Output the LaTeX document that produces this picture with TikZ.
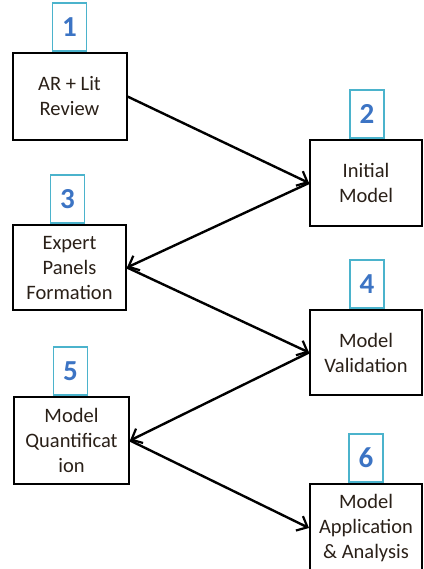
\documentclass[tikz,border=0pt]{standalone}
\usepackage{fontspec}
\setmainfont{Carlito}
\usetikzlibrary{arrows.meta}
\definecolor{numblue}{HTML}{3C74C4}
\definecolor{labcyan}{HTML}{4BB3CC}
\definecolor{txt}{HTML}{2A2018}
\begin{document}
\begin{tikzpicture}[x=1pt,y=-1pt,
  stepbox/.style={draw=black,line width=2pt,fill=white,minimum width=#1,align=center,
    text=txt,font=\fontsize{20.5}{25}\selectfont,inner sep=0pt},
  numbox/.style={draw=labcyan,line width=1.6pt,fill=white,minimum width=34,minimum height=48,
    anchor=south,inner sep=0pt,text=numblue,font=\fontsize{29}{30}\selectfont\bfseries},
  arr/.style={line width=2.4pt,-{Straight Barb[length=9pt,width=16pt,line width=2.2pt]}}]
\useasboundingbox (0,0) rectangle (423,569);
\node[stepbox=114,minimum height=87] (b1) at (69.5,96.5) {AR + Lit\\Review};
\node[stepbox=112,minimum height=86] (b2) at (366,183) {Initial\\Model};
\node[stepbox=113,minimum height=85] (b3) at (69.5,267.5) {Expert\\Panels\\Formation};
\node[stepbox=112,minimum height=85] (b4) at (366,352.5) {Model\\Validation};
\node[stepbox=115,minimum height=87] (b5) at (71.5,440.5) {Model\\Quantificat\\ion};
\node[stepbox=112,minimum height=88] (b6) at (366,528) {Model\\Application\\\& Analysis};
\node[numbox] (n1) at (b1.north) {1};
\node[numbox] (n2) at ([xshift=1pt]b2.north) {2};
\node[numbox] (n3) at ([xshift=-2pt]b3.north) {3};
\node[numbox] (n4) at ([xshift=1pt]b4.north) {4};
\node[numbox] (n5) at ([xshift=-1pt]b5.north) {5};
\node[numbox] (n6) at (b6.north) {6};
\draw[arr] (b1.east) -- (b2.west);
\draw[arr] (b2.west) -- (b3.east);
\draw[arr] (b3.east) -- (b4.west);
\draw[arr] (b4.west) -- (b5.east);
\draw[arr] (b5.east) -- (b6.west);
\end{tikzpicture}
\end{document}
